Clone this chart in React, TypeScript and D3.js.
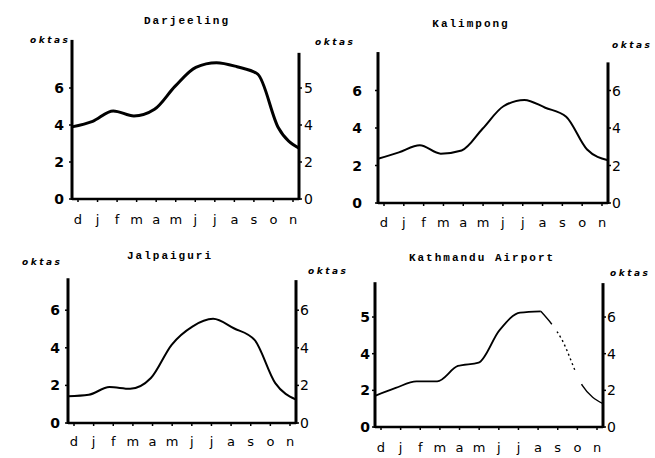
import React from "react";
import * as d3 from "d3";

const months = ["d", "j", "f", "m", "a", "m", "j", "j", "a", "s", "o", "n"];
const darjeeling = [3.9, 4.2, 4.76, 4.49, 4.85, 6.1, 7.12, 7.37, 7.15, 6.75, 3.85, 2.75];
const kalimpong = [2.36, 2.7, 3.08, 2.63, 2.8, 3.96, 5.16, 5.5, 5.08, 4.6, 2.85, 2.28];
const jalpaiguri = [1.42, 1.5, 1.91, 1.82, 2.39, 4.16, 5.13, 5.54, 5.04, 4.42, 2.12, 1.24];
const kathmandu = [1.7, 2.13, 2.49, 2.49, 3.33, 3.51, 5.27, 6.24, 6.31, 4.8, 2.27, 1.27];
const tickValues = [0, 2, 4, 6];
const labelsStd = ["0", "2", "4", "6"];
const labelsDarjRight = ["0", "2", "4", "5"];
const labelsKathLeft = ["0", "2", "4", "5"];
const titles = ["Darjeeling", "Kalimpong", "Jalpaiguri", "Kathmandu Airport"];
const unitText = "oktas";

type Panel = {
  title: string; data: number[]; left: number; right: number; bottom: number; unit: number;
  topL: number; topR: number; titleX: number; titleY: number; monthY: number;
  lLabels: string[]; rLabels: string[]; stroke: number; dashFrom?: number;
  lLabX: number; rLabX: number;
};

const panels: Panel[] = [
  { title: titles[0], data: darjeeling, left: 72, right: 299, bottom: 199, unit: 18.5, topL: 8.6, topR: 7.9,
    titleX: 187, titleY: 24, monthY: 224, lLabels: labelsStd, rLabels: labelsDarjRight, stroke: 3, lLabX: 64, rLabX: 304 },
  { title: titles[1], data: kalimpong, left: 378, right: 608, bottom: 203, unit: 18.75, topL: 8.05, topR: 7.5,
    titleX: 471, titleY: 27, monthY: 227, lLabels: labelsStd, rLabels: labelsStd, stroke: 2, lLabX: 362, rLabX: 612 },
  { title: titles[2], data: jalpaiguri, left: 68, right: 296, bottom: 423, unit: 18.8, topL: 7.7, topR: 7.6,
    titleX: 170, titleY: 259, monthY: 446, lLabels: labelsStd, rLabels: labelsStd, stroke: 2, lLabX: 60, rLabX: 300 },
  { title: titles[3], data: kathmandu, left: 375, right: 603, bottom: 427, unit: 18.33, topL: 7.9, topR: 7.85,
    titleX: 482, titleY: 261, monthY: 452, lLabels: labelsKathLeft, rLabels: labelsStd, stroke: 1.8, dashFrom: 8, lLabX: 370, rLabX: 607 },
];

const unitLabels = [
  { x: 30, y: 43 }, { x: 315, y: 45 }, { x: 612, y: 48 },
  { x: 22, y: 265 }, { x: 308, y: 274 }, { x: 610, y: 276 },
];

function PanelView({ p }: { p: Panel }) {
  const y = d3.scaleLinear().domain([0, 8]).range([p.bottom, p.bottom - 8 * p.unit]);
  const xLine = d3.scaleLinear().domain([0, months.length - 1]).range([p.left, p.right]);
  const xLab = d3.scalePoint<number>().domain(d3.range(months.length)).range([p.left + 6, p.right - 6]);
  const idx = d3.range(p.data.length);
  const lineIdx = d3.line<number>().x((i) => xLine(i)).y((i) => y(p.data[i])).curve(d3.curveMonotoneX);
  const solidIdx = p.dashFrom !== undefined ? idx.filter((i) => i <= p.dashFrom!) : idx;
  const dashIdx = p.dashFrom !== undefined ? idx.filter((i) => i >= p.dashFrom!) : [];
  return (
    <g>
      <text x={p.titleX} y={p.titleY} textAnchor="middle" fontFamily="Liberation Mono" fontWeight="bold"
        fontSize={11} letterSpacing={2}>{p.title}</text>
      <line x1={p.left} x2={p.left} y1={p.bottom + 1} y2={y(p.topL)} stroke="#000" strokeWidth={3} />
      <line x1={p.right} x2={p.right} y1={p.bottom + 1} y2={y(p.topR)} stroke="#000" strokeWidth={3} />
      <line x1={p.left} x2={p.right} y1={p.bottom} y2={p.bottom} stroke="#000" strokeWidth={2.5} />
      {months.map((m, i) => (
        <g key={i}>
          <line x1={xLab(i)!} x2={xLab(i)!} y1={p.bottom} y2={p.bottom + 3} stroke="#000" strokeWidth={1.5} />
          <text x={xLab(i)!} y={p.monthY} textAnchor="middle" fontFamily="DejaVu Sans" fontSize={13}>{m}</text>
        </g>
      ))}
      {tickValues.map((t, i) => (
        <g key={"t" + i}>
          <line x1={p.left - 3} x2={p.left} y1={y(t)} y2={y(t)} stroke="#000" strokeWidth={1.5} />
          <line x1={p.right} x2={p.right + 3} y1={y(t)} y2={y(t)} stroke="#000" strokeWidth={1.5} />
          <text x={p.lLabX} y={y(t) + 5} textAnchor="end" fontFamily="DejaVu Sans" fontWeight="bold" fontSize={14}>{p.lLabels[i]}</text>
          <text x={p.rLabX} y={y(t) + 5} textAnchor="start" fontFamily="DejaVu Sans" fontSize={14}>{p.rLabels[i]}</text>
        </g>
      ))}
      <path d={lineIdx(solidIdx) || ""} fill="none" stroke="#000" strokeWidth={p.stroke} strokeLinejoin="round" />
      {dashIdx.length > 0 && (
        <path d={lineIdx(dashIdx) || ""} fill="none" stroke="#000" strokeWidth={p.stroke - 0.4}
          strokeDasharray="17,9,2,3,2,3,2,3,2,3,2,3,2,3,2,3,2,3,2,16,40" />
      )}
    </g>
  );
}

export default function App() {
  return (
    <svg width={655} height={458} style={{ position: "absolute", left: 0, top: 0, background: "#fff" }}>
      <rect width={655} height={458} fill="#fff" />
      {panels.map((p, i) => <PanelView key={i} p={p} />)}
      {unitLabels.map((u, i) => (
        <text key={i} x={u.x} y={u.y} fontFamily="DejaVu Sans" fontWeight="bold" fontStyle="italic"
          fontSize={9} letterSpacing={2.5}>{unitText}</text>
      ))}
    </svg>
  );
}
